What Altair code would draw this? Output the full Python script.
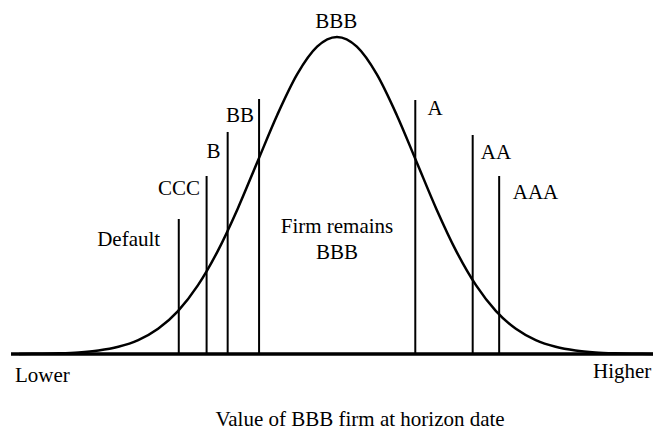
import altair as alt
import pandas as pd

# Bell curve (value distribution of a BBB firm at the horizon).
# x in standard-deviation units, y in density units
curve_x = [-4.0, -3.75, -3.5, -3.25, -3.0, -2.75, -2.5, -2.25, -2.0, -1.75, -1.5, -1.25, -1.0,
           -0.75, -0.5, -0.25, 0.0, 0.25, 0.5, 0.75, 1.0, 1.25, 1.5, 1.75, 2.0, 2.25, 2.5,
           2.75, 3.0, 3.25, 3.5, 3.75, 4.0]
curve_y = [0.0001, 0.0004, 0.0009, 0.0020, 0.0044, 0.0091, 0.0175, 0.0317, 0.0540, 0.0863,
           0.1295, 0.1826, 0.2420, 0.3011, 0.3521, 0.3867, 0.3989, 0.3867, 0.3521, 0.3011,
           0.2420, 0.1826, 0.1295, 0.0863, 0.0540, 0.0317, 0.0175, 0.0091, 0.0044, 0.0020,
           0.0009, 0.0004, 0.0001]

# Rating thresholds (vertical lines)
thr_name = ["Default", "CCC", "B", "BB", "A", "AA", "AAA"]
thr_x = [-1.99, -1.64, -1.375, -0.98, 0.985, 1.707, 2.04]
thr_top = [0.1699, 0.2240, 0.2794, 0.3209, 0.3196, 0.2756, 0.2240]

# Centered labels
lab_text = ["BBB", "BB", "B", "CCC", "Default", "Firm remains", "BBB", "A", "AA", "AAA",
            "Value of BBB firm at horizon date"]
lab_x = [-0.01, -1.22, -1.553, -1.987, -2.62, 0.0, 0.0, 1.233, 2.0, 2.497, 0.29]
lab_y = [0.4102, 0.2919, 0.2466, 0.2001, 0.1359, 0.1523, 0.1195, 0.3008, 0.2454, 0.1951,
         -0.0906]

# Left-aligned axis end labels
end_text = ["Lower", "Higher"]
end_x = [-4.05, 3.22]
end_y = [-0.0352, -0.0306]

# Baseline extent
base_x = [-4.10]
base_x2 = [4.2]

XDOM = [-4.138, 3.975]
YDOM = [-0.09816, 0.4354]
xs = alt.Scale(domain=XDOM, nice=False, zero=False)
ys = alt.Scale(domain=YDOM, nice=False, zero=False)
FONT = "Liberation Serif"

curve_df = pd.DataFrame({"x": curve_x, "y": curve_y})
thr_df = pd.DataFrame({"name": thr_name, "x": thr_x, "top": thr_top, "zero": [0.0] * len(thr_x)})
lab_df = pd.DataFrame({"t": lab_text, "x": lab_x, "y": lab_y})
end_df = pd.DataFrame({"t": end_text, "x": end_x, "y": end_y})
base_df = pd.DataFrame({"x": base_x, "x2": base_x2, "y": [0.0]})

baseline = alt.Chart(base_df).mark_rule(color="black", strokeWidth=3.5, clip=True).encode(
    x=alt.X("x:Q", scale=xs, axis=None),
    x2="x2:Q",
    y=alt.Y("y:Q", scale=ys, axis=None),
)

curve = alt.Chart(curve_df).mark_line(color="black", strokeWidth=2.5, interpolate="monotone").encode(
    x=alt.X("x:Q", scale=xs, axis=None),
    y=alt.Y("y:Q", scale=ys, axis=None),
)

rules = alt.Chart(thr_df).mark_rule(color="black", strokeWidth=2).encode(
    x=alt.X("x:Q", scale=xs, axis=None),
    y=alt.Y("zero:Q", scale=ys, axis=None),
    y2="top:Q",
)

labels = alt.Chart(lab_df).mark_text(font=FONT, fontSize=21, color="black", align="center",
                                      baseline="alphabetic").encode(
    x=alt.X("x:Q", scale=xs, axis=None),
    y=alt.Y("y:Q", scale=ys, axis=None),
    text="t:N",
)

ends = alt.Chart(end_df).mark_text(font=FONT, fontSize=21, color="black", align="left",
                                    baseline="alphabetic").encode(
    x=alt.X("x:Q", scale=xs, axis=None),
    y=alt.Y("y:Q", scale=ys, axis=None),
    text="t:N",
)

chart = alt.layer(baseline, curve, rules, labels, ends).properties(
    width=645, height=424, autosize=alt.AutoSizeParams(type="none"), padding=0,
).configure_view(stroke=None)

chart.save("out.html", embed_options={"renderer": "svg", "actions": False})
